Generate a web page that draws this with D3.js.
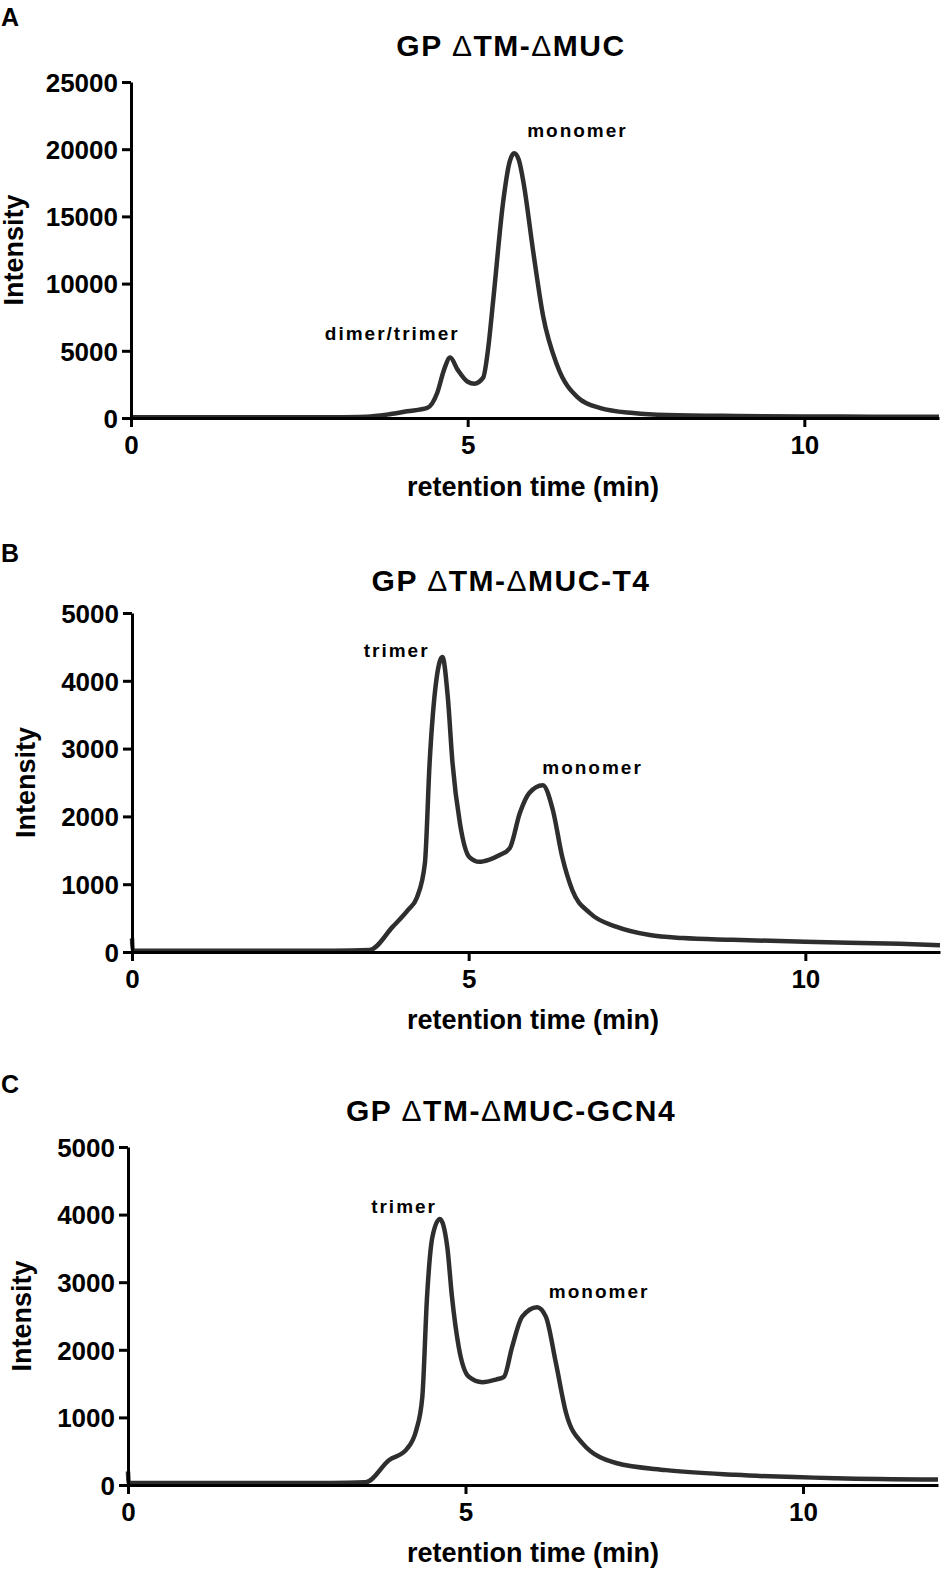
<!DOCTYPE html>
<meta charset="utf-8">
<style>
    body { margin: 0; background: #fff; }
    text { font-family: "Liberation Sans", Arial, sans-serif; font-weight: bold; fill: #000; }
    .tick text { font-size: 26px; }
    .peakLabel { font-size: 19px; letter-spacing: 2px; }
</style>
<body>
    <script src="https://d3js.org/d3.v7.min.js"></script>
    <script>
        // chromatogram traces (time in min, intensity)
        let timesA = [0, 1, 2, 3, 3.5, 3.8, 4.1, 4.4, 4.55, 4.65, 4.74, 4.85, 5.0, 5.1, 5.23, 5.3, 5.38, 5.53, 5.62, 5.69, 5.76, 5.83, 5.97, 6.12, 6.33, 6.63, 6.97, 7.46, 7.96, 9, 10, 11, 12];
        let intensityA = [50, 50, 50, 60, 100, 250, 500, 750, 1900, 3600, 4500, 3600, 2700, 2550, 3000, 5000, 8800, 16200, 19000, 19700, 19200, 17500, 12500, 7600, 3900, 1560, 740, 370, 220, 150, 120, 100, 90];

        let timesB = [0, 0.01, 0.05, 1, 2, 3, 3.53, 3.87, 4.1, 4.23, 4.35, 4.42, 4.52, 4.61, 4.69, 4.76, 4.87, 5.01, 5.16, 5.3, 5.46, 5.61, 5.76, 5.9, 6.1, 6.25, 6.39, 6.54, 6.8, 7.2, 7.69, 8.18, 8.92, 10, 11.4, 12];
        let intensityB = [200, 30, 20, 20, 20, 20, 30, 370, 620, 800, 1310, 2790, 4010, 4350, 3760, 2790, 1900, 1400, 1330, 1360, 1430, 1530, 2050, 2345, 2460, 2095, 1400, 910, 575, 370, 250, 205, 180, 150, 120, 100];

        let timesC = [0, 0.01, 0.05, 1, 2, 3, 3.52, 3.87, 4.12, 4.27, 4.36, 4.43, 4.51, 4.62, 4.73, 4.8, 4.9, 5.05, 5.25, 5.45, 5.57, 5.69, 5.84, 6.06, 6.19, 6.34, 6.49, 6.73, 7.23, 7.97, 9, 10.5, 12];
        let intensityC = [200, 30, 30, 30, 30, 30, 40, 370, 520, 810, 1300, 2780, 3670, 3935, 3520, 2780, 2040, 1600, 1520, 1560, 1600, 2040, 2490, 2630, 2490, 1800, 1065, 620, 325, 220, 150, 100, 80];

        let xTicks = [0, 5, 10];
        let yTicksA = [0, 5000, 10000, 15000, 20000, 25000];
        let yTicksBC = [0, 1000, 2000, 3000, 4000, 5000];

        // peak labels: text, time, intensity where the label sits
        let peaksA = [["dimer/trimer", 3.88, 6300], ["monomer", 6.63, 21400]];
        let peaksB = [["trimer", 3.93, 4450], ["monomer", 6.84, 2730]];
        let peaksC = [["trimer", 4.09, 4120], ["monomer", 6.98, 2870]];

        let width = 945;
        let height = 1571;

        let svg = d3.select("body").append("svg")
            .attr("width", width)
            .attr("height", height);

        function drawPanel(p) {
            let g = svg.append("g");

            let x = d3.scaleLinear().domain([0, 12]).range([p.left, p.right]);
            let y = d3.scaleLinear().domain([0, p.yMax]).range([p.bottom, p.top]);

            // panel letter + title
            g.append("text")
                .attr("x", 1).attr("y", p.letterY)
                .attr("dy", "0.35em")
                .style("font-size", "25px")
                .text(p.letter);

            let title = g.append("text")
                .attr("x", 511).attr("y", p.titleY)
                .attr("dy", "0.35em")
                .attr("text-anchor", "middle")
                .style("font-size", "30px")
                .style("letter-spacing", "1.5px");
            title.append("tspan").text("GP ");
            title.append("tspan").style("font-weight", "normal").text("\u0394");
            title.append("tspan").text("TM-");
            title.append("tspan").style("font-weight", "normal").text("\u0394");
            title.append("tspan").text(p.suffix);

            // the trace
            let pts = p.times.map((t, i) => [t, p.values[i]]);
            let line = d3.line()
                .x(d => x(d[0]))
                .y(d => y(d[1]))
                .curve(d3.curveMonotoneX);
            g.append("path")
                .datum(pts)
                .attr("d", line)
                .attr("fill", "none")
                .attr("stroke", "#2e2e2e")
                .attr("stroke-width", 4.5)
                .attr("stroke-linejoin", "round");

            // axes
            let xAxis = g.append("g")
                .attr("transform", "translate(0," + p.bottom + ")")
                .call(d3.axisBottom(x).tickValues(xTicks).tickSize(9).tickPadding(9).tickSizeOuter(0));
            let yAxis = g.append("g")
                .attr("transform", "translate(" + p.left + ",0)")
                .call(d3.axisLeft(y).tickValues(p.yTicks).tickSize(9).tickPadding(4).tickSizeOuter(0).tickFormat(d3.format("d")));
            [xAxis, yAxis].forEach(a => {
                a.select(".domain").attr("stroke", "#000").attr("stroke-width", 3);
                a.selectAll(".tick line").attr("stroke", "#000").attr("stroke-width", 3);
                a.selectAll(".tick text").attr("fill", "#000").style("font-family", null);
            });
            yAxis.selectAll(".tick text").attr("dy", "0.36em");

            // axis titles
            g.append("text")
                .attr("x", 533).attr("y", p.xLabelY)
                .attr("dy", "0.35em")
                .attr("text-anchor", "middle")
                .style("font-size", "27px")
                .text("retention time (min)");
            g.append("text")
                .attr("transform", "translate(" + p.yLabelX + "," + ((p.top + p.bottom) / 2) + ") rotate(-90)")
                .attr("dy", "0.35em")
                .attr("text-anchor", "middle")
                .style("font-size", "27px")
                .text("Intensity");

            // peak annotations
            g.selectAll(".peakLabel")
                .data(p.peaks)
                .join("text")
                    .attr("class", "peakLabel")
                    .attr("x", d => x(d[1]))
                    .attr("y", d => y(d[2]))
                    .attr("dy", "0.35em")
                    .attr("text-anchor", "middle")
                    .text(d => d[0]);
        }

        drawPanel({ letter: "A", suffix: "MUC", times: timesA, values: intensityA, yMax: 25000, yTicks: yTicksA, peaks: peaksA,
            left: 131, right: 939, top: 82, bottom: 418, letterY: 17, titleY: 45, xLabelY: 487, yLabelX: 14 });
        drawPanel({ letter: "B", suffix: "MUC-T4", times: timesB, values: intensityB, yMax: 5000, yTicks: yTicksBC, peaks: peaksB,
            left: 132, right: 940, top: 613, bottom: 952, letterY: 553, titleY: 580, xLabelY: 1020, yLabelX: 26 });
        drawPanel({ letter: "C", suffix: "MUC-GCN4", times: timesC, values: intensityC, yMax: 5000, yTicks: yTicksBC, peaks: peaksC,
            left: 128, right: 938, top: 1147, bottom: 1485, letterY: 1084, titleY: 1110, xLabelY: 1553, yLabelX: 22 });
    </script>
</body>
